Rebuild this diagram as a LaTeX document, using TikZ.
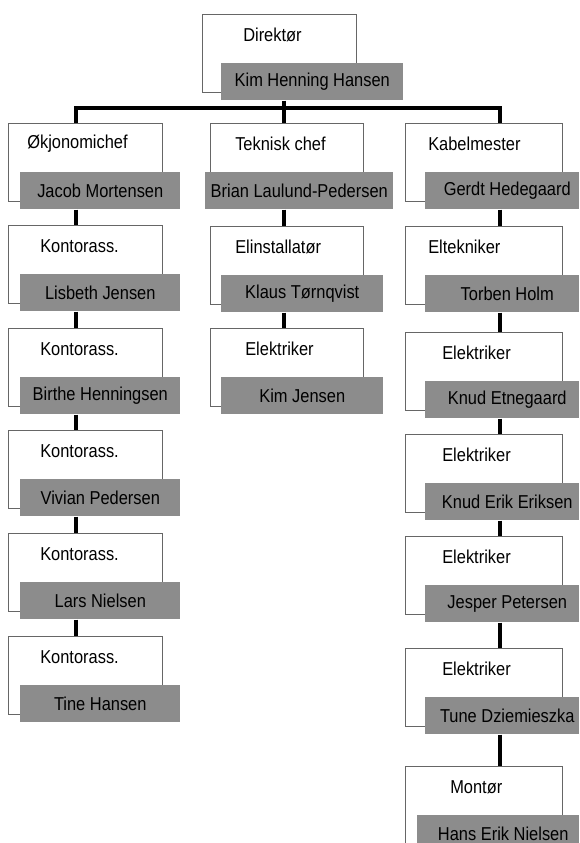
\documentclass[tikz,border=0pt]{standalone}
\usepackage{fontspec}
\setmainfont[FakeStretch=0.88]{Liberation Sans}
\tikzset{
  whitebox/.style={draw=black!60, line width=0.5pt, fill=white, anchor=north west,
    inner sep=0pt, minimum height=58.5pt},
  greybox/.style={fill=black!45, anchor=north west, inner sep=0pt,
    minimum height=27.75pt, font=\fontsize{14}{16}\selectfont},
  titletext/.style={anchor=west, inner sep=0pt, font=\fontsize{14}{16}\selectfont},
  conn/.style={line width=2.4pt, black, line join=miter},
}
% #1 id, #2 white left, #3 top, #4 white right, #5 grey left, #6 grey right,
% #7 title x, #8 title, #9 name
\newcommand\orgunit[9]{%
  \node[whitebox, minimum width={(#4-#2)*0.75pt}] (#1w) at (#2,#3) {};
  \node[titletext] (#1t) at (#7,{#3+21}) {#8};
  \node[greybox, minimum width={(#6-#5)*0.75pt}] (#1) at (#5,{#3+49}) {#9};
}
\newcommand\rs{\hspace*{7.5pt}}
\begin{document}
\begin{tikzpicture}[x=0.75pt, y=-0.75pt]
\useasboundingbox (0,0) rectangle (579,843);
\clip (0,0) rectangle (579,843);
\coordinate (cL) at (76,0);
\coordinate (cM) at (284,0);
\coordinate (cR) at (500,0);
\coordinate (bar) at (0,108);

% top
\orgunit{dir}{202}{14}{356}{221}{403}{243}{Direktør}{Kim Henning Hansen}

% left column
\orgunit{l1}{8}{123}{162}{20}{180}{27}{Økjonomichef}{Jacob Mortensen}
\orgunit{l2}{8}{225}{162}{20}{180}{40}{Kontorass.}{Lisbeth Jensen}
\orgunit{l3}{8}{328}{162}{20}{180}{40}{Kontorass.}{Birthe Henningsen}
\orgunit{l4}{8}{430}{162}{20}{180}{40}{Kontorass.}{Vivian Pedersen}
\orgunit{l5}{8}{533}{162}{20}{180}{40}{Kontorass.}{Lars Nielsen}
\orgunit{l6}{8}{636}{162}{20}{180}{40}{Kontorass.}{Tine Hansen}

% middle column
\orgunit{m1}{210}{123}{363}{205}{393}{235}{Teknisk chef}{Brian Laulund-Pedersen}
\orgunit{m2}{210}{226}{363}{221}{383}{235}{Elinstallatør}{Klaus Tørnqvist}
\orgunit{m3}{210}{328}{363}{221}{383}{245}{Elektriker}{Kim Jensen}

% right column
\orgunit{r1}{405}{123}{562}{425}{579}{428}{Kabelmester}{\rs Gerdt Hedegaard}
\orgunit{r2}{405}{226}{562}{425}{579}{428}{Eltekniker}{\rs Torben Holm}
\orgunit{r3}{405}{332}{562}{425}{579}{442}{Elektriker}{\rs Knud Etnegaard}
\orgunit{r4}{405}{434}{562}{425}{579}{442}{Elektriker}{\rs Knud Erik Eriksen}
\orgunit{r5}{405}{536}{562}{425}{579}{442}{Elektriker}{\rs Jesper Petersen}
\orgunit{r6}{405}{648}{562}{425}{579}{442}{Elektriker}{\rs Tune Dziemieszka}
\orgunit{r7}{405}{766}{562}{417}{579}{450}{Montør}{\rs Hans Erik Nielsen}

% connectors
\draw[conn] (dir.south -| cM) -- (bar -| cM);
\draw[conn] (l1w.north -| cL) -- (bar -| cL) -- (bar -| cR) -- (r1w.north -| cR);
\draw[conn] (bar -| cM) -- (m1w.north -| cM);
\foreach \a/\b in {l1/l2, l2/l3, l3/l4, l4/l5, l5/l6}
  \draw[conn] (\a.south -| cL) -- (\b w.north -| cL);
\foreach \a/\b in {m1/m2, m2/m3}
  \draw[conn] (\a.south -| cM) -- (\b w.north -| cM);
\foreach \a/\b in {r1/r2, r2/r3, r3/r4, r4/r5, r5/r6, r6/r7}
  \draw[conn] (\a.south -| cR) -- (\b w.north -| cR);
\end{tikzpicture}
\end{document}
